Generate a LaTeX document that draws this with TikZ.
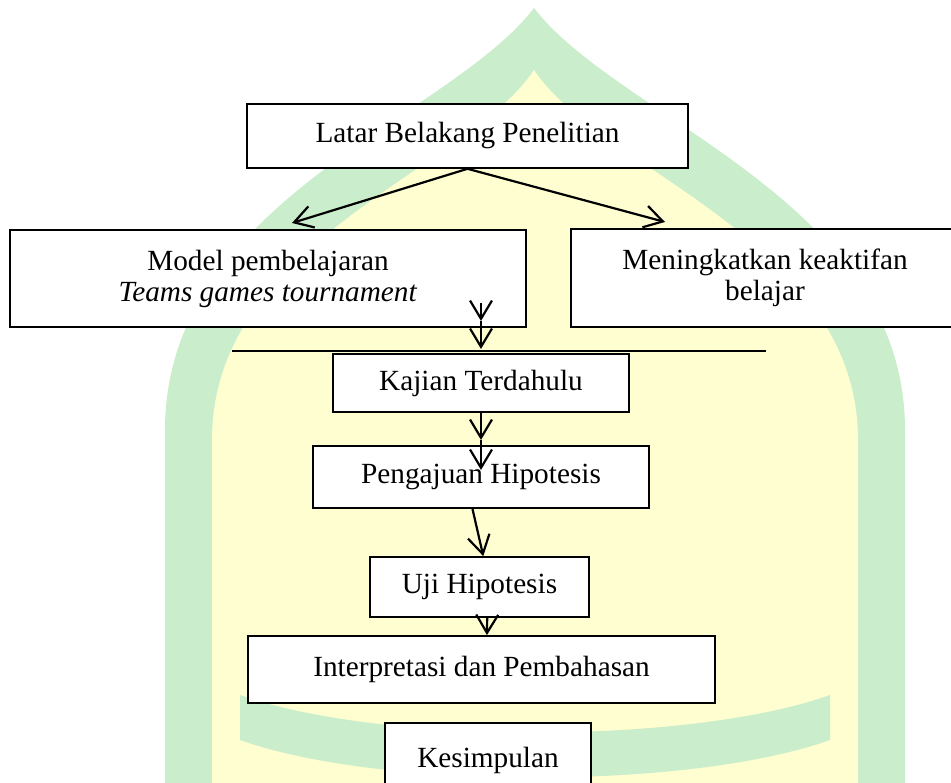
\documentclass[tikz,border=0pt]{standalone}
\usepackage{fontspec}
\setmainfont{Liberation Serif}
\usetikzlibrary{arrows.meta}
\definecolor{wmgreen}{RGB}{202,237,204}
\definecolor{wmyellow}{RGB}{254,254,208}
\tikzset{
  box/.style 2 args={draw, fill=white, line width=0.7pt, inner sep=2pt,
    minimum width=#1, minimum height=#2, align=center,
    font=\fontsize{12}{12.7}\selectfont},
  arr/.style={-{Straight Barb[length=7.5pt,width=9pt]}, line width=0.9pt}
}
\begin{document}
\begin{tikzpicture}[x=0.41pt,y=-0.41pt]
      \useasboundingbox (0,0) rectangle (951,783);
      % watermark in the back
      \fill[wmgreen] (165,783) -- (165,430) .. controls (165,200) and (448,120) .. (534,8)
        .. controls (620,120) and (905,200) .. (905,430) -- (905,783) -- cycle;
      \fill[wmyellow] (212,783) -- (212,440) .. controls (212,240) and (468,170) .. (534,70)
        .. controls (600,170) and (858,240) .. (858,440) -- (858,783) -- cycle;
      \fill[wmgreen] (240,695) .. controls (380,745) and (690,745) .. (830,695)
        -- (830,740) .. controls (690,790) and (380,790) .. (240,740) -- cycle;
      \draw
        (467.5,136) node[box={180.8pt}{26.2pt}] (latar){Latar Belakang Penelitian}
        (268,278.5) node[box={211.6pt}{39.8pt}] (model){Model pembelajaran\\\textit{Teams games tournament}}
        (765,278) node[box={159.1pt}{40.2pt}] (aktif){Meningkatkan keaktifan\\belajar}
        (481,383) node[box={121.4pt}{23.8pt}] (kajian){Kajian Terdahulu}
        (481,477) node[box={137.8pt}{25.4pt}] (ajuan){Pengajuan Hipotesis}
        (479.5,587) node[box={89.8pt}{24.6pt}] (uji){Uji Hipotesis}
        (481.5,669.5) node[box={191.5pt}{27.5pt}] (bahas){Interpretasi dan Pembahasan}
        (488,760) node[box={84.5pt}{30.3pt}] (simpul){Kesimpulan};
      \coordinate (tipL) at (292,223);
      \coordinate (tipR) at (665,222);
      \coordinate (m1) at (481,303);
      \coordinate (m2) at (481,321);
      \coordinate (barL) at (232,351);
      \coordinate (barR) at (766,351);
      \coordinate (bar) at (481,349);
      \coordinate (k1) at (481,440);
      \coordinate (k2) at (481,470);
      \draw[line width=0.9pt] (barL) -- (barR);
      \begin{scope}[arr]
        \draw (latar.south) to (tipL);
        \draw (latar.south) to (tipR);
        \draw (m1) to (m2);
        \draw (m2) to (bar);
        \draw (kajian.south) to (k1);
        \draw (k1) to (k2);
        \draw (ajuan.255) to (uji.83);
        \draw (uji.284) to (bahas.81);
      \end{scope}
    \end{tikzpicture}
\end{document}
